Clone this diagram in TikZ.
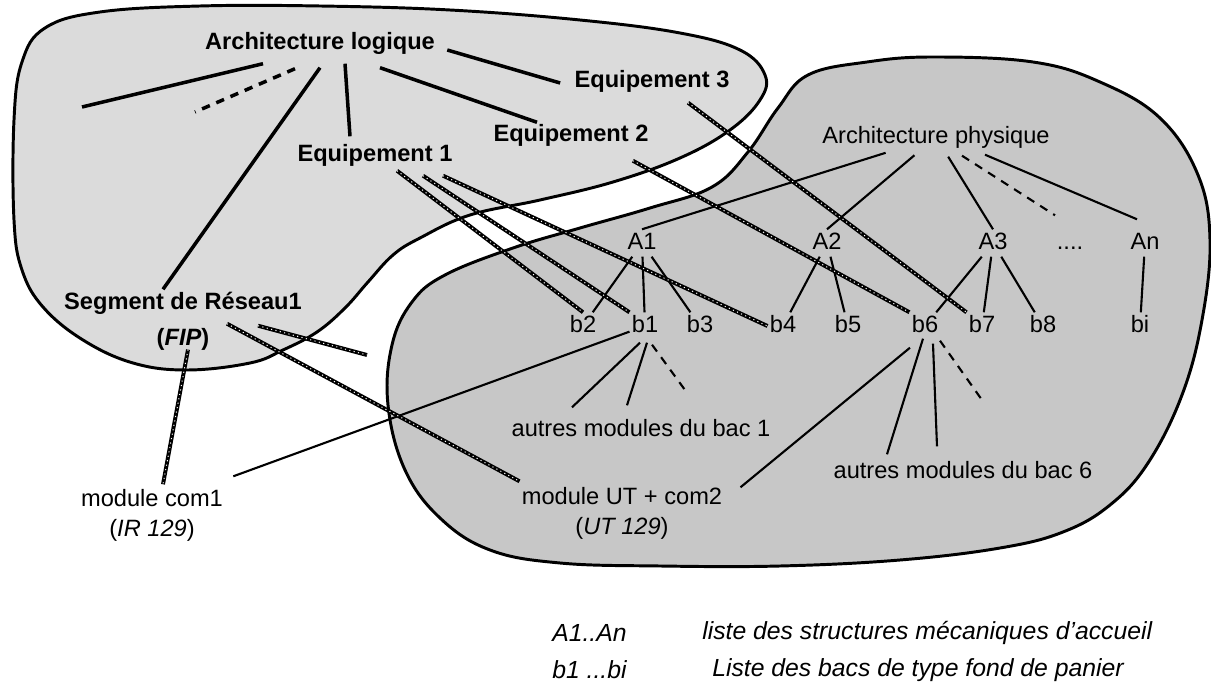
\documentclass[tikz,border=0pt]{standalone}
\usepackage{fontspec}
\setmainfont{Liberation Sans}
\usetikzlibrary{positioning}

\begin{document}
\begin{tikzpicture}[x=0.025cm,y=-0.025cm,
    txt/.style={font=\fontsize{16.8}{20}\selectfont,inner sep=1.5pt,text height=12.6pt,text depth=3.5pt},
    btxt/.style={txt,font=\fontsize{16.8}{20}\selectfont\bfseries},
    ltxt/.style={font=\fontsize{17.6}{20}\selectfont\itshape,inner sep=0pt},
    blob/.style={draw,line width=2.1pt},
    logline/.style={line width=2.5pt},
    physline/.style={line width=1.5pt},
    dashline/.style={dash pattern=on 6pt off 5pt},
    hatch/.style={line width=2.8pt,postaction={draw=white,line width=0.7pt,dash pattern=on 0.8pt off 2.4pt}}]
    \useasboundingbox (0,0) rectangle (1211,694);
    %% Blobs
    \draw[blob,fill=black!14] plot[smooth cycle,tension=0.65] coordinates {
        (14,120) (22,62) (45,28) (100,12) (200,6) (320,6) (450,10) (580,20) (680,33)
        (740,50) (765,75) (760,100) (730,130) (680,158) (613,182) (540,200) (470,215)
        (420,238) (393,255) (368,282) (345,308) (317,332) (283,350) (250,363) (187,370)
        (133,363) (83,340) (43,307) (22,270) (14,220)};
    \draw[blob,fill=black!22] plot[smooth cycle,tension=0.65] coordinates {
        (778,108) (808,75) (867,62) (933,57) (1033,62) (1100,82) (1160,118) (1198,175)
        (1210,240) (1202,320) (1182,395) (1148,463) (1110,505) (1063,532) (1000,548)
        (900,560) (780,566) (660,566) (560,563) (490,550) (440,518) (405,470) (388,405)
        (392,345) (412,302) (445,275) (513,248) (580,228) (650,208) (712,187) (748,152)};
    %% Logical architecture
    \node[btxt] (archlog) at (320,43) {Architecture logique};
    \node[btxt] (eq1) at (375,155) {Equipement 1};
    \node[btxt] (eq2) at (571,135) {Equipement 2};
    \node[btxt] (eq3) at (652,81) {Equipement 3};
    \node[btxt] (seg) at (183,303) {Segment de Réseau1};
    \node[btxt,below=6pt of seg] (fip) {(\textit{FIP})};
    \coordinate (stubL) at (82,107);
    \coordinate (stubD) at (195,112);
    \coordinate (stubS) at (367,355);
    %% Physical architecture
    \node[txt] (archphys) at (936,137) {Architecture physique};
    \node[txt] (A1) at (642,243) {A1};
    \node[txt] (A2) at (827,243) {A2};
    \node[txt] (A3) at (993,243) {A3};
    \node[txt] (dots) at (1070,243) {....};
    \node[txt] (An) at (1145,243) {An};
    \node[txt] (b2) at (583,326) {b2};
    \node[txt] (b1) at (645,326) {b1};
    \node[txt] (b3) at (700,326) {b3};
    \node[txt] (b4) at (783,326) {b4};
    \node[txt] (b5) at (848,326) {b5};
    \node[txt] (b6) at (925,326) {b6};
    \node[txt] (b7) at (982,326) {b7};
    \node[txt] (b8) at (1043,326) {b8};
    \node[txt] (bi) at (1140,326) {bi};
    \node[txt] (autres1) at (641,430) {autres modules du bac 1};
    \node[txt] (autres6) at (963,472) {autres modules du bac 6};
    \node[txt] (com1) at (152,500) {module com1};
    \node[txt,below=2pt of com1] (ir) {(\textit{IR 129})};
    \node[txt] (modut) at (622,498) {module UT + com2};
    \node[txt,below=2pt of modut] (ut) {(\textit{UT 129})};
    \coordinate (stubB1) at (685,390);
    \coordinate (stubB6) at (982,400);
    %% Legend
    \node[ltxt,anchor=west] (keyA) at (552,633) {A1..An};
    \node[ltxt,anchor=west] (defA) at (702,633) {liste des structures mécaniques d'accueil};
    \node[ltxt,anchor=west] (keyb) at (552,670) {b1 ...bi};
    \node[ltxt,anchor=west] (defb) at (712,670) {Liste des bacs de type fond de panier};
    %% Logical links
    \draw[logline] (archlog.south) ++(-57,7) -- (stubL);
    \draw[logline,dashline] (archlog.south) ++(-25,12) -- (stubD);
    \draw[logline] (archlog.south) ++(0,11) -- ([shift={(-20,0)}]seg.north);
    \draw[logline] (archlog.south) ++(25,7) -- ([shift={(-25,-5)}]eq1.north);
    \draw[logline] (archlog.south) ++(60,11) -- ([shift={(-34,1)}]eq2.north);
    \draw[logline] (archlog.east) ++(10,7) -- ([shift={(-12,2)}]eq3.west);
    %% Physical links
    \draw[physline,shorten <=5pt] (archphys) -- (A1.north);
    \draw[physline,shorten <=5pt] (archphys) -- (A2.north);
    \draw[physline,shorten <=5pt] (archphys) -- (A3.north);
    \draw[physline,dashline] (archphys.south) ++(26,5) -- ([shift={(-15,-14)}]dots.north);
    \draw[physline] (archphys.south) ++(49,4) -- ([shift={(-8,-10)}]An.north);
    \draw[physline] (A1) -- (b2);
    \draw[physline] (A1) -- (b1);
    \draw[physline] (A1) -- (b3);
    \draw[physline] (A2) -- (b4);
    \draw[physline] (A2) -- (b5);
    \draw[physline] (A3) -- (b6);
    \draw[physline] (A3) -- (b7);
    \draw[physline] (A3) -- (b8);
    \draw[physline] (An) -- (bi);
    \draw[physline] (b1) -- ([shift={(8,-10)}]com1.north east);
    \draw[physline] (b1.south) ++(-5,3) -- ([shift={(-69,-9)}]autres1.north);
    \draw[physline] (b1.south) ++(2,3) -- ([shift={(-14,-11)}]autres1.north);
    \draw[physline,dashline] (b1.south) ++(7,5) -- (stubB1);
    \draw[physline] (b6.south) ++(-15,8) -- ([shift={(16,3)}]modut.north east);
    \draw[physline] (b6.south) ++(-2,-1) -- ([shift={(-76,-4)}]autres6.north);
    \draw[physline] (b6.south) ++(8,4) -- ([shift={(-26,-12)}]autres6.north);
    \draw[physline,dashline] (b6.south) ++(15,1) -- (stubB6);
    %% Cross links
    \draw[hatch] (eq1.south) ++(22,2) -- (b2.north);
    \draw[hatch] (eq1.south) ++(48,7) -- (b1.north west);
    \draw[hatch] (eq1.south) ++(68,7) -- (b4.west);
    \draw[hatch] (eq2.south east) ++(-18,12) -- (b6.north west);
    \draw[hatch] (eq3.south) ++(36,8) -- (b7.north west);
    \draw[hatch] (seg.south) ++(44,7) -- ([shift={(0,-3)}]modut.north west);
    \draw[hatch] (seg.south) ++(75,9) -- (stubS);
    \draw[hatch] (fip.south) ++(5,-3) -- ([shift={(11,-2)}]com1.north);
\end{tikzpicture}
\end{document}
